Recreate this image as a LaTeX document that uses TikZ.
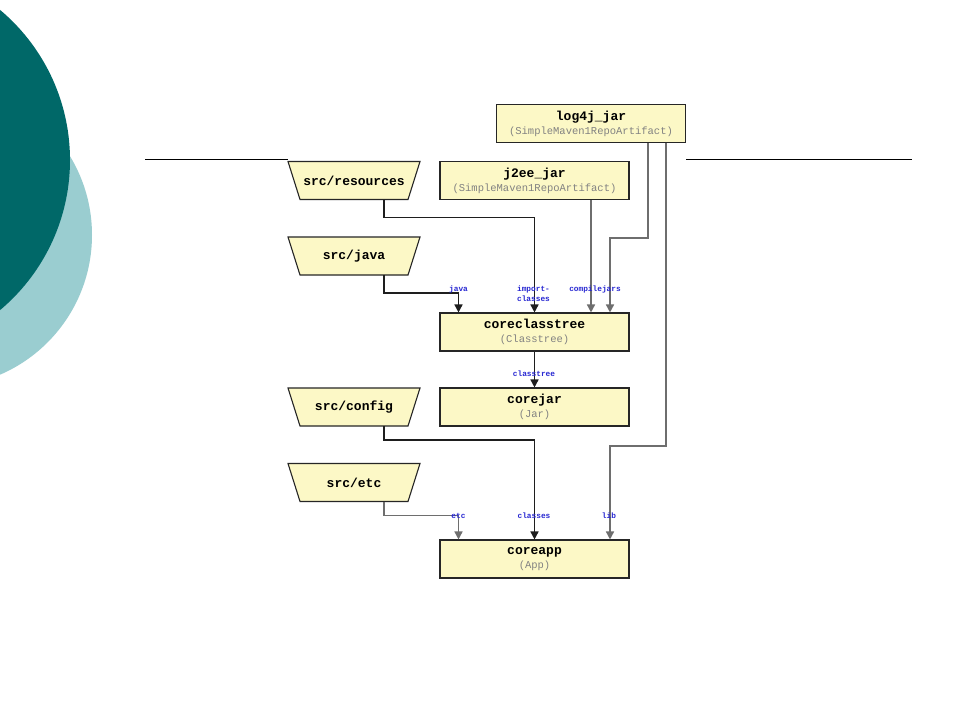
\documentclass[tikz,border=0pt]{standalone}
\usepackage{fontspec}
\setmonofont{Liberation Mono}
\usetikzlibrary{arrows.meta}
\definecolor{tealdark}{RGB}{0,104,104}
\definecolor{teallight}{RGB}{154,205,208}
\definecolor{boxfill}{RGB}{252,248,198}
\definecolor{lblblue}{RGB}{40,40,210}
\definecolor{subgray}{RGB}{130,130,130}
\definecolor{lngray}{RGB}{110,110,110}
\definecolor{lndark}{RGB}{30,30,30}
\tikzset{
  taskbox/.style={draw=black!85,line width=1.1pt,fill=boxfill,rectangle,minimum width=189pt,minimum height=38pt,inner sep=0pt,align=center,font=\ttfamily\fontsize{10.5}{14}\selectfont},
  srcshape/.style={draw=black!85,line width=1.1pt,fill=boxfill,line join=miter},
  srctext/.style={rectangle,minimum width=132pt,minimum height=38pt,inner sep=0pt,font=\ttfamily\bfseries\fontsize{13}{14}\selectfont},
  conn/.style={line width=1.5pt,-{Triangle[length=8pt,width=8pt]}},
  dk/.style={conn,draw=lndark},
  gy/.style={conn,draw=lngray},
  lbl/.style={inner sep=0pt,text=lblblue,font=\ttfamily\bfseries\fontsize{7.8}{9.5}\selectfont,align=center}
}
\newcommand{\nm}[1]{{\bfseries\fontsize{13}{14}\selectfont #1}}
\newcommand{\sub}[1]{{\color{subgray}#1}}
\newcommand{\srcnode}[4]{%
  \filldraw[srcshape] (#2,#3) ++(-66,-19) -- ++(132,0) -- ++(-12,38) -- ++(-108,0) -- cycle;
  \node[srctext] (#1) at (#2,#3) {#4};}
\begin{document}
\begin{tikzpicture}[x=1pt,y=-1pt]
\useasboundingbox (0,0) rectangle (960,720);
\fill[white] (0,0) rectangle (960,720);
\begin{scope}
\clip (0,0) rectangle (960,720);
\fill[teallight] (-60,235) circle (152);
\fill[tealdark] (-126,160) circle (196);
\end{scope}
% rule lines
\coordinate (r1a) at (145,159.5);
\coordinate (r1b) at (288,159.5);
\coordinate (r2a) at (686,159.5);
\coordinate (r2b) at (912,159.5);
\draw[line width=0.9pt] (r1a) -- (r1b);
\draw[line width=0.9pt] (r2a) -- (r2b);
% nodes
\node[taskbox] (log) at (591,123.5) {\nm{log4j\_jar}\\\sub{(SimpleMaven1RepoArtifact)}};
\node[taskbox] (j2ee) at (534.5,180.5) {\nm{j2ee\_jar}\\\sub{(SimpleMaven1RepoArtifact)}};
\srcnode{res}{354}{180.5}{src/resources}
\srcnode{java}{354}{256}{src/java}
\node[taskbox] (cct) at (534.5,332) {\nm{coreclasstree}\\\sub{(Classtree)}};
\node[taskbox] (jar) at (534.5,407) {\nm{corejar}\\\sub{(Jar)}};
\srcnode{cfg}{354}{407}{src/config}
\srcnode{etc}{354}{482.5}{src/etc}
\node[taskbox] (app) at (534.5,559) {\nm{coreapp}\\\sub{(App)}};
% connectors
\draw[dk] ([xshift=30pt]res.south) -- ++(0,18) -| (cct.north);
\draw[dk] ([xshift=30pt]java.south) -- ++(0,18) -| ([xshift=-76pt]cct.north);
\draw[gy] ([xshift=56.5pt]j2ee.south) -- ([xshift=56.5pt]cct.north);
\draw[gy] ([xshift=57pt]log.south) -- ++(0,95) -| ([xshift=75.5pt]cct.north);
\draw[gy] ([xshift=75pt]log.south) -- ++(0,303) -| ([xshift=75.5pt]app.north);
\draw[dk] (cct.south) -- (jar.north);
\draw[dk] ([xshift=30pt]cfg.south) -- ++(0,14) -| (app.north);
\draw[gy] ([xshift=30pt]etc.south) -- ++(0,14) -| ([xshift=-76pt]app.north);
% labels
\node[lbl] (ljava) at (458.5,289) {java};
\node[lbl] (limp) at (533.5,293.5) {import-\\classes};
\node[lbl] (lcomp) at (595,289) {compilejars};
\node[lbl] (lct) at (534,373.5) {classtree};
\node[lbl] (letc) at (458.5,515.5) {etc};
\node[lbl] (lcls) at (534,515.5) {classes};
\node[lbl] (llib) at (609,515.5) {lib};
\end{tikzpicture}
\end{document}
